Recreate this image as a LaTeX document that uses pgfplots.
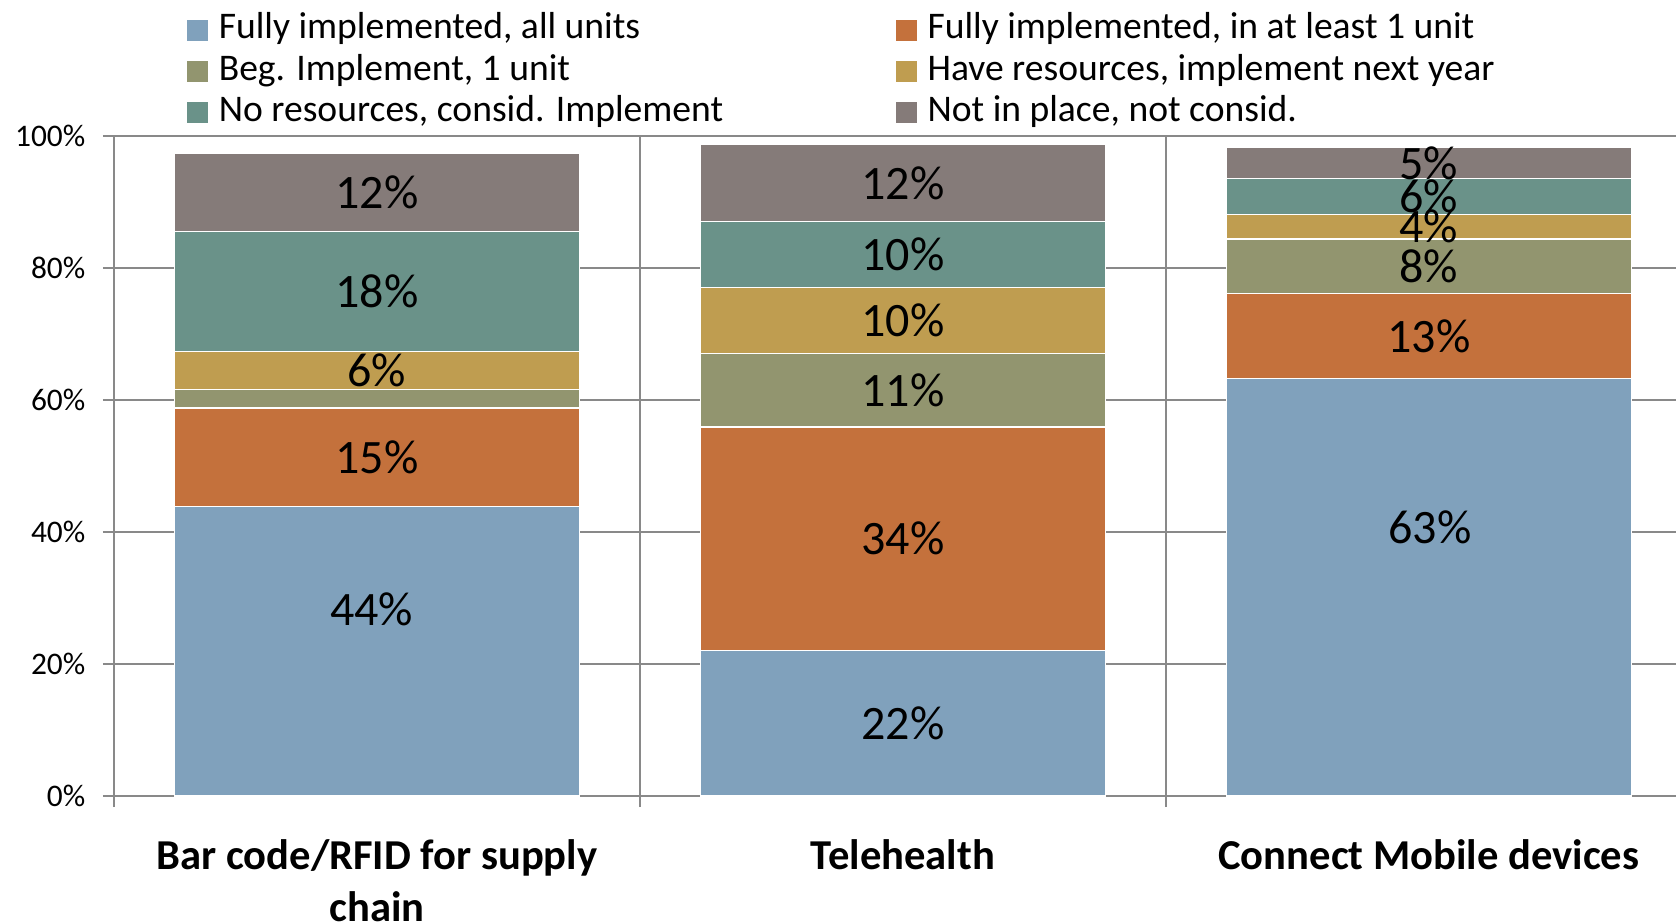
\documentclass[border=0pt]{standalone}
\usepackage{pgfplots}
\pgfplotsset{compat=1.18}
\usepackage{fontspec}
\setmainfont{Carlito}

\definecolor{cblue}{RGB}{128,161,188}
\definecolor{corange}{RGB}{196,113,60}
\definecolor{colive}{RGB}{146,149,111}
\definecolor{cgold}{RGB}{191,157,80}
\definecolor{cteal}{RGB}{106,146,137}
\definecolor{cgray}{RGB}{133,123,121}
\definecolor{axgray}{RGB}{137,137,137}

\begin{document}
\begin{tikzpicture}
\begin{axis}[
  at={(0,0)}, anchor=south west,
  scale only axis, width=781pt, height=330pt,
  ybar stacked, bar width=0.77,
  xmin=-0.5, xmax=2.47, ymin=0, ymax=100,
  axis x line*=bottom, axis y line*=left,
  axis line style={axgray, line width=1.2pt, -},
  tick align=outside, major tick length=5.5pt,
  tick style={axgray, line width=1.2pt},
  xtick={-0.5,0.5,1.5}, xticklabels={},
  xmajorgrids, ymajorgrids,
  grid style={axgray, line width=1.2pt},
  extra x ticks={0,1,2},
  extra x tick labels={{Bar code/RFID for supply\\chain}, Telehealth, Connect Mobile devices},
  extra x tick style={grid=none, major tick length=0pt, tick style={draw=none},
    xticklabel style={font=\fontsize{21.3}{26}\selectfont\bfseries, align=center, anchor=north, yshift=-18.4pt}},
  ytick={0,20,40,60,80,100},
  yticklabels={0\%,20\%,40\%,60\%,80\%,100\%},
  yticklabel style={font=\fontsize{15.7}{18}\selectfont, xshift=-5.3pt},
  /pgf/number format/assume math mode=true,
  point meta=explicit symbolic,
  nodes near coords={\pgfplotspointmeta},
  nodes near coords style={anchor=center, font=\fontsize{24}{24}\selectfont, text=black},
  legend columns=2,
  legend cell align=left,
  legend style={draw=none, fill=none, at={(0,1)}, anchor=north west, xshift=36.5pt, yshift=63.2pt,
    font=\fontsize{18.8}{22}\selectfont, inner sep=0pt, row sep=0pt,
    /tikz/every odd column/.append style={column sep=3.2pt},
    /tikz/every even column/.append style={column sep=84.5pt},
    nodes={text height=12.5pt, text depth=4.1pt, inner sep=2pt}},
  legend image code/.code={\fill[#1, draw=none] (0pt,-5.25pt) rectangle (10.5pt,5.25pt);},
]
\addplot[fill=cblue, draw=white, line width=0.6pt,
  visualization depends on={\thisrow{dy} \as \dy},
  visualization depends on={\thisrow{dx} \as \dx},
  nodes near coords style={yshift=\dy pt, xshift=\dx pt}] table[x=x, y=y, meta=lab] {
x y lab dy dx
0 43.9 44\% 20.9 -2.7
1 22.1 22\% 0 0
2 63.3 63\% 30 0.5
};
\addplot[fill=corange, draw=white, line width=0.6pt] coordinates {(0,14.9)[15\%] (1,33.8)[34\%] (2,12.8)[13\%]};
\addplot[fill=colive, draw=white, line width=0.6pt] coordinates {(0,2.8)[{}] (1,11.1)[11\%] (2,8.3)[8\%]};
\addplot[fill=cgold, draw=white, line width=0.6pt] coordinates {(0,5.7)[6\%] (1,10.0)[10\%] (2,3.7)[4\%]};
\addplot[fill=cteal, draw=white, line width=0.6pt] coordinates {(0,18.2)[18\%] (1,10.0)[10\%] (2,5.5)[6\%]};
\addplot[fill=cgray, draw=white, line width=0.6pt] coordinates {(0,11.8)[12\%] (1,11.8)[12\%] (2,4.6)[5\%]};
\legend{{Fully implemented, all units},{Fully implemented, in at least 1 unit},{Beg. Implement, 1 unit},{Have resources, implement next year},{No resources, consid. Implement},{Not in place, not consid.}}
\end{axis}
\pgfresetboundingbox
\path[use as bounding box] (-57pt,-62.5pt) rectangle (781pt,398pt);
\end{tikzpicture}
\end{document}
